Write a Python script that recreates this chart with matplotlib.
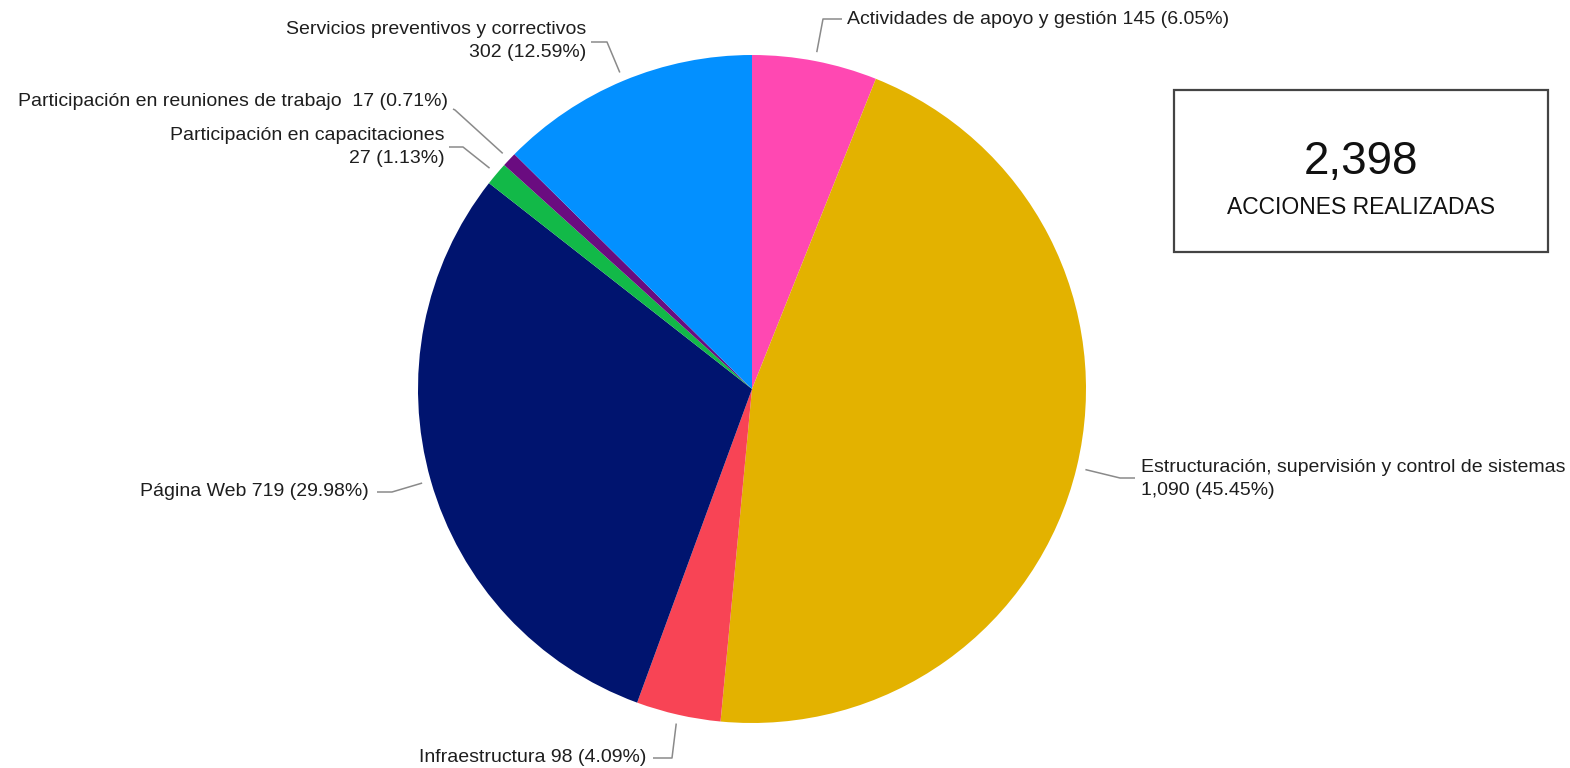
import numpy as np
import matplotlib
matplotlib.use("Agg")
import matplotlib.pyplot as plt
from matplotlib.patches import Rectangle

plt.rcParams['font.family'] = ['Liberation Sans', 'DejaVu Sans']

categories = [
    "Actividades de apoyo y gestión",
    "Estructuración, supervisión y control de sistemas",
    "Infraestructura",
    "Página Web",
    "Participación en capacitaciones",
    "Participación en reuniones de trabajo",
    "Servicios preventivos y correctivos",
]
values = [145, 1090, 98, 719, 27, 17, 302]
label_texts = [
    "Actividades de apoyo y gestión 145 (6.05%)",
    "Estructuración, supervisión y control de sistemas\n1,090 (45.45%)",
    "Infraestructura 98 (4.09%)",
    "Página Web 719 (29.98%)",
    "Participación en capacitaciones\n27 (1.13%)",
    "Participación en reuniones de trabajo  17 (0.71%)",
    "Servicios preventivos y correctivos\n302 (12.59%)",
]
colors = ["#FF48B2", "#E3B200", "#F84455", "#00146F", "#12B948", "#6A0C80", "#0390FF"]
total_value = "2,398"
total_caption = "ACCIONES REALIZADAS"

W, H = 1570, 768
fig = plt.figure(figsize=(W / 100, H / 100), dpi=100)
ax = fig.add_axes([0, 0, 1, 1])

def Y(y):
    return H - y

cx, cy, R = 752, 389, 334
wedges, _ = ax.pie(values, colors=colors, startangle=90, counterclock=False,
                   center=(cx, Y(cy)), radius=R, frame=True,
                   wedgeprops=dict(linewidth=0))
ax.set_xlim(0, W)
ax.set_ylim(0, H)
ax.set_aspect("equal")
ax.axis("off")

# layout: elbow point, end of horizontal segment, text anchor, alignment (image coords)
layout = [
    ((823, 19), (842, 19), (847, 19), "left"),
    ((1120, 478), (1135, 478), (1141, 479), "left"),
    ((672, 758), (653, 758), (646, 757), "right"),
    ((392, 492), (377, 492), (369, 491), "right"),
    ((463, 147), (449, 147), (445, 147), "right"),
    ((455, 110), (453, 109), (448, 102), "right"),
    ((607, 42), (591, 42), (586, 41), "right"),
]

for w, txt, (elb, end, tpos, ha) in zip(wedges, label_texts, layout):
    ang = np.deg2rad((w.theta1 + w.theta2) / 2.0)
    sx = cx + (R + 9) * np.cos(ang)
    sy = Y(cy) + (R + 9) * np.sin(ang)
    ax.plot([sx, elb[0], end[0]], [sy, Y(elb[1]), Y(end[1])],
            color="#8a8a8a", lw=1.1, solid_capstyle="butt")
    ax.text(tpos[0], Y(tpos[1]), txt, ha=ha, va="center", fontsize=14,
            color="#1e1e1e", linespacing=1.4)

box = Rectangle((1174, Y(252)), 1548 - 1174, 252 - 90, fill=False,
                edgecolor="#444444", lw=1.6)
ax.add_patch(box)
ax.text(1361, Y(162), total_value, ha="center", va="center", fontsize=33, color="#111111")
ax.text(1361, Y(207), total_caption, ha="center", va="center", fontsize=16.5, color="#111111")

fig.savefig("out.png", dpi=100, facecolor="white")
